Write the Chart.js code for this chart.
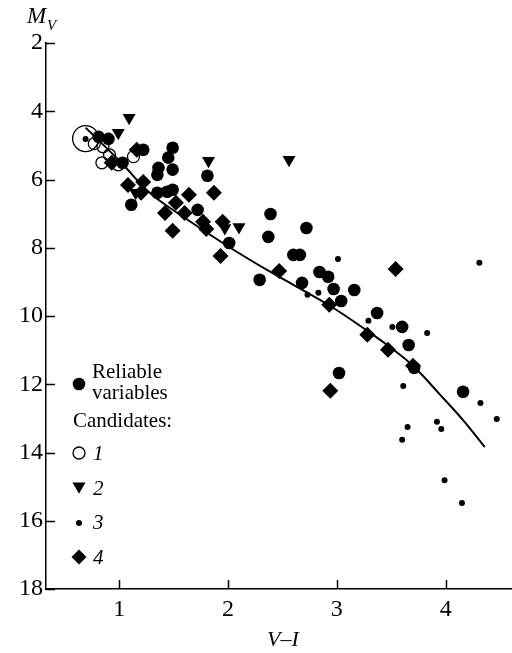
<!DOCTYPE html>
<html>
<head>
<meta charset="utf-8">
<script src="https://cdn.jsdelivr.net/npm/chart.js@4.4.1/dist/chart.umd.min.js"></script>
<style>
  html, body { margin: 0; padding: 0; background: #fff; overflow: hidden; }
  #cmd { display: block; }
</style>
</head>
<body>
<canvas id="cmd" width="512" height="653"></canvas>
<script>
// colour-magnitude diagram: V-I against M_V
const xTicks = [1, 2, 3, 4];
const yTicks = [2, 4, 6, 8, 10, 12, 14, 16, 18];

// reliable variables [V-I, M_V]
const reliable = [
  [0.81, 4.75], [0.90, 4.81], [1.03, 5.51], [1.22, 5.13], [1.49, 5.07], [1.45, 5.36],
  [1.36, 5.66], [1.35, 5.86], [1.49, 5.71], [1.11, 6.74], [1.81, 5.89], [1.35, 6.39],
  [1.44, 6.36], [1.49, 6.30], [1.72, 6.89], [2.01, 7.86], [2.39, 7.01], [2.37, 7.68],
  [2.72, 7.42], [2.60, 8.21], [2.66, 8.21], [2.29, 8.94], [2.68, 9.03], [2.84, 8.71],
  [2.92, 8.85], [2.97, 9.21], [3.16, 9.24], [3.04, 9.56], [3.37, 9.91], [3.60, 10.32],
  [3.66, 10.85], [3.71, 11.52], [3.02, 11.67], [4.16, 12.22]
];

// candidates, group 1 (open circles) and the big ring
const cand1 = [[0.77, 4.95], [0.85, 5.04], [0.91, 5.28], [0.84, 5.51], [0.99, 5.57], [1.13, 5.33]];
const cand1Big = [[0.69, 4.80]];

// candidates, group 2 (triangles)
const cand2 = [[1.09, 4.19], [0.99, 4.63], [1.82, 5.45], [2.56, 5.42], [1.15, 6.39], [1.97, 7.42], [2.10, 7.39]];

// candidates, group 3 (small dots)
const cand3 = [
  [0.69, 4.81], [3.01, 8.33], [2.73, 9.38], [2.83, 9.32], [3.29, 10.14], [3.51, 10.32],
  [3.83, 10.50], [3.61, 12.05], [4.31, 8.44], [4.32, 12.55], [4.47, 13.02], [3.65, 13.25],
  [3.60, 13.63], [3.92, 13.10], [3.96, 13.31], [3.99, 14.81], [4.15, 15.48]
];

// candidates, group 4 (diamonds)
const cand4 = [
  [1.16, 5.13], [0.93, 5.51], [1.08, 6.16], [1.22, 6.07], [1.20, 6.39], [1.64, 6.45],
  [1.87, 6.39], [1.52, 6.68], [1.42, 6.98], [1.60, 6.98], [1.49, 7.50], [1.77, 7.24],
  [1.80, 7.45], [1.95, 7.24], [1.93, 8.24], [2.47, 8.68], [3.54, 8.62], [2.93, 9.67],
  [3.28, 10.55], [3.47, 10.99], [3.70, 11.46], [2.94, 12.19]
];

// fitted sequence
const fitLine = [
  [0.69, 4.48], [1.01, 5.48], [1.28, 6.39], [1.60, 7.12], [2.02, 8.00], [2.39, 8.71],
  [2.92, 9.67], [3.31, 10.50], [3.50, 10.94], [3.70, 11.46], [3.95, 12.31], [4.16, 13.05],
  [4.36, 13.84]
];

const SERIF = '"Liberation Serif", "DejaVu Serif", serif';
const toPts = arr => arr.map(p => ({ x: p[0], y: p[1] }));

function marker(ctx, style, x, y, r) {
  ctx.save();
  ctx.fillStyle = '#000';
  ctx.strokeStyle = '#000';
  ctx.lineWidth = 1.3;
  ctx.beginPath();
  if (style === 'circle' || style === 'dot') {
    ctx.arc(x, y, r, 0, Math.PI * 2);
    ctx.fill();
  } else if (style === 'ring') {
    ctx.arc(x, y, r, 0, Math.PI * 2);
    ctx.stroke();
  } else if (style === 'tri') {
    ctx.moveTo(x - r * 0.87, y - r * 0.75);
    ctx.lineTo(x + r * 0.87, y - r * 0.75);
    ctx.lineTo(x, y + r * 0.75);
    ctx.closePath();
    ctx.fill();
  } else if (style === 'diamond') {
    ctx.moveTo(x, y - r);
    ctx.lineTo(x + r, y);
    ctx.lineTo(x, y + r);
    ctx.lineTo(x - r, y);
    ctx.closePath();
    ctx.fill();
  }
  ctx.restore();
}

// inward ticks, axis titles and the key
const decor = {
  id: 'decor',
  afterDraw(chart) {
    const ctx = chart.ctx;
    const { left, bottom } = chart.chartArea;
    const xs = chart.scales.x, ys = chart.scales.y;
    ctx.save();
    ctx.strokeStyle = '#000';
    ctx.lineWidth = 1.5;
    ctx.beginPath();
    yTicks.forEach(v => {
      const py = Math.round(ys.getPixelForValue(v)) + 0.5;
      ctx.moveTo(left, py);
      ctx.lineTo(left + 9, py);
    });
    xTicks.forEach(v => {
      const px = Math.round(xs.getPixelForValue(v)) + 0.5;
      ctx.moveTo(px, bottom);
      ctx.lineTo(px, bottom - 9);
    });
    ctx.stroke();

    ctx.fillStyle = '#000';
    ctx.textBaseline = 'middle';
    ctx.textAlign = 'left';
    ctx.font = 'italic 23px ' + SERIF;
    ctx.fillText('M', 27, 17);
    ctx.font = 'italic 15px ' + SERIF;
    ctx.fillText('V', 47, 26);

    ctx.textAlign = 'center';
    ctx.font = 'italic 22px ' + SERIF;
    ctx.fillText('V\u2013I', 283, 640);

    ctx.textAlign = 'left';
    ctx.font = '21px ' + SERIF;
    marker(ctx, 'circle', 79, 384, 6.3);
    ctx.fillText('Reliable', 92, 372);
    ctx.fillText('variables', 92, 393);
    ctx.fillText('Candidates:', 73, 421);
    marker(ctx, 'ring', 79, 453, 6);
    marker(ctx, 'tri', 79, 488, 7.5);
    marker(ctx, 'dot', 79, 523, 3);
    marker(ctx, 'diamond', 79, 557, 7.5);
    ctx.font = 'italic 21px ' + SERIF;
    ctx.fillText('1', 93, 454);
    ctx.fillText('2', 93, 489);
    ctx.fillText('3', 93, 523);
    ctx.fillText('4', 93, 558);
    ctx.restore();
  }
};

const ctx = document.getElementById('cmd').getContext('2d');
new Chart(ctx, {
  type: 'scatter',
  data: {
    datasets: [
      { label: 'Reliable variables', data: toPts(reliable), pointStyle: 'circle', pointRadius: 6.3,
        backgroundColor: '#000', borderColor: '#000', borderWidth: 0 },
      { label: '1', data: toPts(cand1), pointStyle: 'circle', pointRadius: 6,
        backgroundColor: 'rgba(0,0,0,0)', borderColor: '#000', borderWidth: 1.3 },
      { label: '1 (ring)', data: toPts(cand1Big), pointStyle: 'circle', pointRadius: 13,
        backgroundColor: 'rgba(0,0,0,0)', borderColor: '#000', borderWidth: 1.3 },
      { label: '2', data: toPts(cand2), pointStyle: 'triangle', rotation: 180, pointRadius: 7.5,
        backgroundColor: '#000', borderColor: '#000', borderWidth: 0 },
      { label: '3', data: toPts(cand3), pointStyle: 'circle', pointRadius: 3,
        backgroundColor: '#000', borderColor: '#000', borderWidth: 0 },
      { label: '4', data: toPts(cand4), pointStyle: 'rectRot', pointRadius: 8,
        backgroundColor: '#000', borderColor: '#000', borderWidth: 0 },
      { label: 'fit', data: toPts(fitLine), showLine: true, pointRadius: 0,
        borderColor: '#000', borderWidth: 2, tension: 0.4, fill: false }
    ]
  },
  options: {
    responsive: false,
    animation: false,
    events: [],
    layout: { autoPadding: false, padding: { top: 43, right: 0, left: 0, bottom: 0 } },
    plugins: { legend: { display: false }, tooltip: { enabled: false } },
    scales: {
      x: {
        type: 'linear', min: 0.326, max: 4.61,
        afterBuildTicks: s => { s.ticks = xTicks.map(v => ({ value: v })); },
        afterFit: s => { s.height = 64; s.paddingLeft = 0; s.paddingRight = 0; },
        grid: { display: false, drawTicks: false },
        border: { display: true, color: '#000', width: 1.5 },
        ticks: { color: '#000', padding: 6, font: { family: SERIF, size: 24 }, maxRotation: 0 }
      },
      y: {
        type: 'linear', min: 2, max: 18, reverse: true,
        afterBuildTicks: s => { s.ticks = yTicks.map(v => ({ value: v })); },
        afterFit: s => { s.width = 46; s.paddingTop = 0; s.paddingBottom = 0; },
        grid: { display: false, drawTicks: false },
        border: { display: true, color: '#000', width: 1.5 },
        ticks: { color: '#000', padding: 3, font: { family: SERIF, size: 24 } }
      }
    }
  },
  plugins: [decor]
});
</script>
</body>
</html>
